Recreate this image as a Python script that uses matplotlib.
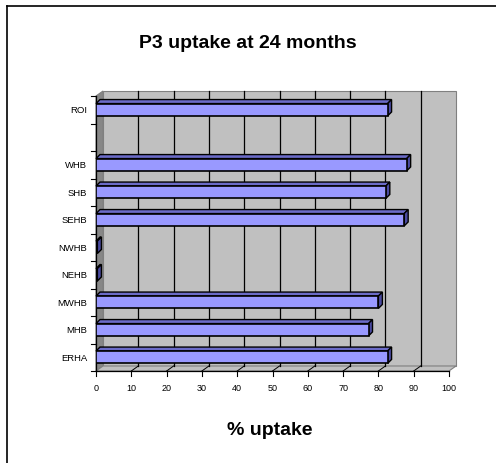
import matplotlib
matplotlib.use("Agg")
import matplotlib.pyplot as plt
from matplotlib.patches import Polygon
from matplotlib.lines import Line2D

plt.rcParams['font.family'] = ['Liberation Sans', 'DejaVu Sans']

categories = ['ERHA', 'MHB', 'MWHB', 'NEHB', 'NWHB', 'SEHB', 'SHB', 'WHB', '', 'ROI']
values = [82.6, 77.2, 80.0, 0.4, 0.4, 87.3, 82.1, 88.0, None, 82.6]
xticks = [0, 10, 20, 30, 40, 50, 60, 70, 80, 90, 100]
title = 'P3 uptake at 24 months'
xlabel = '% uptake'

W, H = 496, 464
fig = plt.figure(figsize=(W / 100, H / 100), dpi=100)

# front plane of the 3D plot in pixels
L, R, T, B = 96, 449, 97, 372
ax = fig.add_axes([L / W, 1 - B / H, (R - L) / W, (B - T) / H])
ax.set_xlim(0, 100)
n = len(categories)
ax.set_ylim(-0.5, n - 0.5)
ax.axis('off')

pxx = (R - L) / 100.0
pxy = (B - T) / n
# wall depth offsets (data units)
dxd, dyd = 7 / pxx, 5 / pxy
# bar depth offsets
dxb, dyb = 4 / pxx, 4 / pxy

y0, y1 = -0.5, n - 0.5
wall_col = '#C0C0C0'
side_col = '#878787'
edge_col = '#808080'

def poly(pts, fc, ec=edge_col, lw=0.8, z=1):
    p = Polygon(pts, closed=True, facecolor=fc, edgecolor=ec, linewidth=lw, zorder=z, clip_on=False)
    ax.add_patch(p)

# back wall
poly([(dxd, y0 + dyd), (100 + dxd, y0 + dyd), (100 + dxd, y1 + dyd), (dxd, y1 + dyd)], wall_col, z=1)
# left wall
poly([(0, y0), (dxd, y0 + dyd), (dxd, y1 + dyd), (0, y1)], side_col, z=1.5)
# floor
poly([(0, y0), (100, y0), (100 + dxd, y0 + dyd), (dxd, y0 + dyd)], wall_col, z=1.5)

# gridlines on back wall and floor
for t in xticks[1:-1]:
    ax.add_line(Line2D([t + dxd, t + dxd], [y0 + dyd, y1 + dyd], color='black', lw=0.9, zorder=2, clip_on=False))
    ax.add_line(Line2D([t, t + dxd], [y0, y0 + dyd], color='black', lw=0.7, zorder=2, clip_on=False))
for t in xticks:
    ax.add_line(Line2D([t, t], [y0, y0 - 5 / pxy], color='black', lw=0.8, zorder=2, clip_on=False))
    ax.text(t, y0 - 17 / pxy, str(t), ha='center', va='center', fontsize=6.5, clip_on=False)

# category axis
ax.add_line(Line2D([0, 0], [y0, y1], color='black', lw=0.9, zorder=3, clip_on=False))
ax.add_line(Line2D([0, 100], [y0, y0], color='black', lw=0.9, zorder=3, clip_on=False))
for k in range(n + 1):
    yb = k - 0.5
    ax.add_line(Line2D([0, -5 / pxx], [yb, yb], color='black', lw=0.8, zorder=3, clip_on=False))
for i, c in enumerate(categories):
    ax.text(-9 / pxx, i, c, ha='right', va='center', fontsize=6.8, clip_on=False)

# bars
h = 0.45
front = '#9999FF'
top = '#6B6BC8'
side = '#4A4AA0'
for i, v in enumerate(values):
    if v is None:
        continue
    lo, hi = i - h / 2, i + h / 2
    ax.barh(i, v, height=h, left=0, color=front, edgecolor='black', linewidth=1.2, zorder=5)
    poly([(0, hi), (v, hi), (v + dxb, hi + dyb), (dxb, hi + dyb)], top, ec='black', lw=1.0, z=4)
    poly([(v, lo), (v, hi), (v + dxb, hi + dyb), (v + dxb, lo + dyb)], side, ec='black', lw=1.0, z=4)

fig.text(248 / W, 1 - 43 / H, title, ha='center', va='center', fontsize=14, fontweight='bold')
fig.text(270 / W, 1 - 431 / H, xlabel, ha='center', va='center', fontsize=14, fontweight='bold')

# chart area frame (left and top)
fig.add_artist(Line2D([7 / W, 7 / W], [0, 1 - 7 / H], color='black', lw=1.2, transform=fig.transFigure))
fig.add_artist(Line2D([7 / W, 1], [1 - 7 / H, 1 - 7 / H], color='black', lw=1.2, transform=fig.transFigure))

fig.savefig('out.png', dpi=100)
